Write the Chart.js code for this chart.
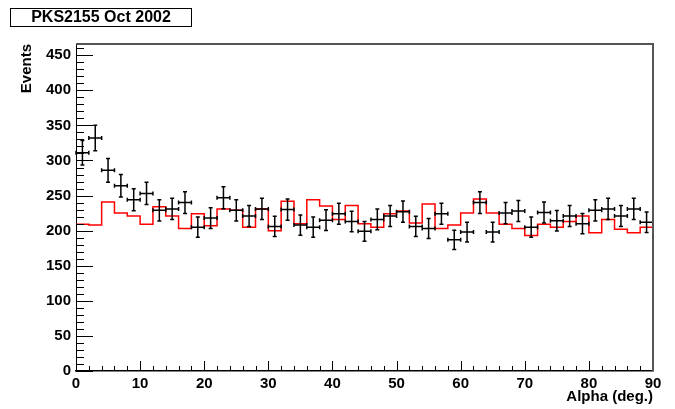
<!DOCTYPE html>
<html>
<head>
<meta charset="utf-8">
<script src="https://cdn.jsdelivr.net/npm/chart.js@4.4.1/dist/chart.umd.min.js"></script>
<style>
  html, body { margin: 0; padding: 0; background: #fff; }
  canvas { display: block; }
</style>
</head>
<body>
<canvas id="plot" width="675" height="409"></canvas>
<script>
// alpha bins, 2 deg wide (low edges)
const binLow = [0, 2, 4, 6, 8, 10, 12, 14, 16, 18, 20, 22, 24, 26, 28, 30, 32, 34, 36, 38, 40, 42,
  44, 46, 48, 50, 52, 54, 56, 58, 60, 62, 64, 66, 68, 70, 72, 74, 76, 78, 80, 82, 84, 86, 88];
const binWidth = 2;

// on-source events (black crosses)
const counts = [311, 332, 286, 264, 244, 253, 229, 231, 240, 205, 218, 247, 229, 221, 231,
  206, 230, 208, 205, 215, 224, 213, 199, 216, 221, 227, 206, 203, 224, 187,
  198, 240, 198, 225, 228, 205, 226, 214, 221, 210, 229, 231, 221, 231, 212];
const countErr = [17.6, 18.2, 16.9, 16.2, 15.6, 15.9, 15.1, 15.2, 15.5, 14.3, 14.8, 15.7, 15.1, 14.9, 15.2,
  14.4, 15.2, 14.4, 14.3, 14.7, 15.0, 14.6, 14.1, 14.7, 14.9, 15.1, 14.4, 14.2, 15.0, 13.7,
  14.1, 15.5, 14.1, 15.0, 15.1, 14.3, 15.0, 14.6, 14.9, 14.5, 15.1, 15.2, 14.9, 15.2, 14.6];

// background estimate (red histogram)
const background = [209, 208, 241, 225, 221, 209, 234, 221, 203, 224, 207, 231, 229, 205, 231,
  200, 242, 210, 244, 235, 216, 236, 210, 205, 224, 228, 211, 238, 203, 208,
  225, 245, 225, 209, 203, 193, 209, 205, 213, 221, 197, 216, 202, 197, 205];

// axis labels
const xTickValues = [0, 10, 20, 30, 40, 50, 60, 70, 80, 90];
const yTickValues = [0, 50, 100, 150, 200, 250, 300, 350, 400, 450];

const titleText = 'PKS2155 Oct 2002';
const FONT = "'Liberation Sans', Arial, Helvetica, sans-serif";

// step points: left edge of each bin, plus the closing edge
const bkgSteps = binLow.map((x, i) => ({ x: x, y: background[i] }));
bkgSteps.push({ x: binLow[binLow.length - 1] + binWidth, y: background[background.length - 1] });

const dataPoints = binLow.map((x, i) => ({ x: x + binWidth / 2, y: counts[i] }));

// ROOT style: error crosses, frame, inside ticks, title box
const rootFrame = {
  id: 'rootFrame',
  afterDatasetsDraw(chart) {
    const { ctx, chartArea: a } = chart;
    const xs = chart.scales.x, ys = chart.scales.y;
    ctx.save();

    // error bars
    ctx.strokeStyle = '#000';
    ctx.lineWidth = 1.5;
    ctx.beginPath();
    for (let i = 0; i < counts.length; i++) {
      const xl = xs.getPixelForValue(binLow[i]);
      const xr = xs.getPixelForValue(binLow[i] + binWidth);
      const xc = xs.getPixelForValue(binLow[i] + binWidth / 2);
      const yc = ys.getPixelForValue(counts[i]);
      const yt = ys.getPixelForValue(counts[i] + countErr[i]);
      const yb = ys.getPixelForValue(counts[i] - countErr[i]);
      ctx.moveTo(xl, yc); ctx.lineTo(xr, yc);
      ctx.moveTo(xc, yt); ctx.lineTo(xc, yb);
      ctx.moveTo(xc - 2, yt); ctx.lineTo(xc + 2, yt);
      ctx.moveTo(xc - 2, yb); ctx.lineTo(xc + 2, yb);
      ctx.moveTo(xl, yc - 2); ctx.lineTo(xl, yc + 2);
      ctx.moveTo(xr, yc - 2); ctx.lineTo(xr, yc + 2);
    }
    ctx.stroke();

    // inside ticks
    ctx.lineWidth = 1;
    ctx.beginPath();
    for (let v = 0; v <= ys.max; v += 10) {
      const py = Math.round(ys.getPixelForValue(v)) + 0.5;
      const len = v % 50 === 0 ? 17 : 8;
      ctx.moveTo(a.left, py); ctx.lineTo(a.left + len, py);
    }
    for (let v = 0; v <= xs.max; v += 2) {
      const px = Math.round(xs.getPixelForValue(v)) + 0.5;
      const len = v % 10 === 0 ? 10 : 5;
      ctx.moveTo(px, a.bottom); ctx.lineTo(px, a.bottom - len);
    }
    ctx.stroke();

    // top / right frame
    ctx.strokeStyle = '#555';
    ctx.lineWidth = 2;
    ctx.beginPath();
    ctx.moveTo(a.left, a.top); ctx.lineTo(a.right, a.top); ctx.lineTo(a.right, a.bottom);
    ctx.stroke();

    // title box
    ctx.fillStyle = '#fff';
    ctx.fillRect(10.5, 8.5, 181, 18);
    ctx.strokeStyle = '#000';
    ctx.lineWidth = 1;
    ctx.strokeRect(10.5, 8.5, 181, 18);
    ctx.fillStyle = '#000';
    ctx.font = 'bold 16px ' + FONT;
    ctx.textAlign = 'center';
    ctx.textBaseline = 'middle';
    ctx.fillText(titleText, 101, 18);
    ctx.restore();
  }
};

new Chart(document.getElementById('plot'), {
  type: 'scatter',
  data: {
    datasets: [
      {
        type: 'line',
        label: 'background',
        data: bkgSteps,
        stepped: 'before',
        borderColor: '#ff0000',
        borderWidth: 1.5,
        pointRadius: 0,
        fill: false
      },
      {
        label: 'events',
        data: dataPoints,
        pointRadius: 0,
        showLine: false
      }
    ]
  },
  options: {
    responsive: false,
    animation: false,
    devicePixelRatio: 1,
    layout: { padding: { left: 0, right: 22, top: 44, bottom: 0 } },
    plugins: { legend: { display: false }, tooltip: { enabled: false } },
    scales: {
      x: {
        type: 'linear',
        min: 0,
        max: 90,
        grid: { display: false, drawTicks: false },
        border: { display: true, color: '#000', width: 1.5 },
        ticks: {
          color: '#000',
          padding: 4,
          maxRotation: 0,
          autoSkip: false,
          font: { family: FONT, size: 15, weight: 'bold' }
        },
        afterBuildTicks(s) { s.ticks = xTickValues.map(v => ({ value: v })); },
        title: {
          display: true,
          text: 'Alpha (deg.)',
          align: 'end',
          color: '#000',
          padding: { top: 0, bottom: 3 },
          font: { family: FONT, size: 15, weight: 'bold' }
        },
        afterFit(s) { s.height = 38; }
      },
      y: {
        type: 'linear',
        min: 0,
        max: 466,
        grid: { display: false, drawTicks: false },
        border: { display: true, color: '#000', width: 1 },
        ticks: {
          color: '#000',
          padding: 5,
          autoSkip: false,
          font: { family: FONT, size: 15, weight: 'bold' }
        },
        afterBuildTicks(s) { s.ticks = yTickValues.map(v => ({ value: v })); },
        title: {
          display: true,
          text: 'Events',
          align: 'end',
          color: '#000',
          padding: { top: 18, bottom: 0 },
          font: { family: FONT, size: 15, weight: 'bold' }
        },
        afterFit(s) { s.width = 76; }
      }
    }
  },
  plugins: [rootFrame]
});
</script>
</body>
</html>
